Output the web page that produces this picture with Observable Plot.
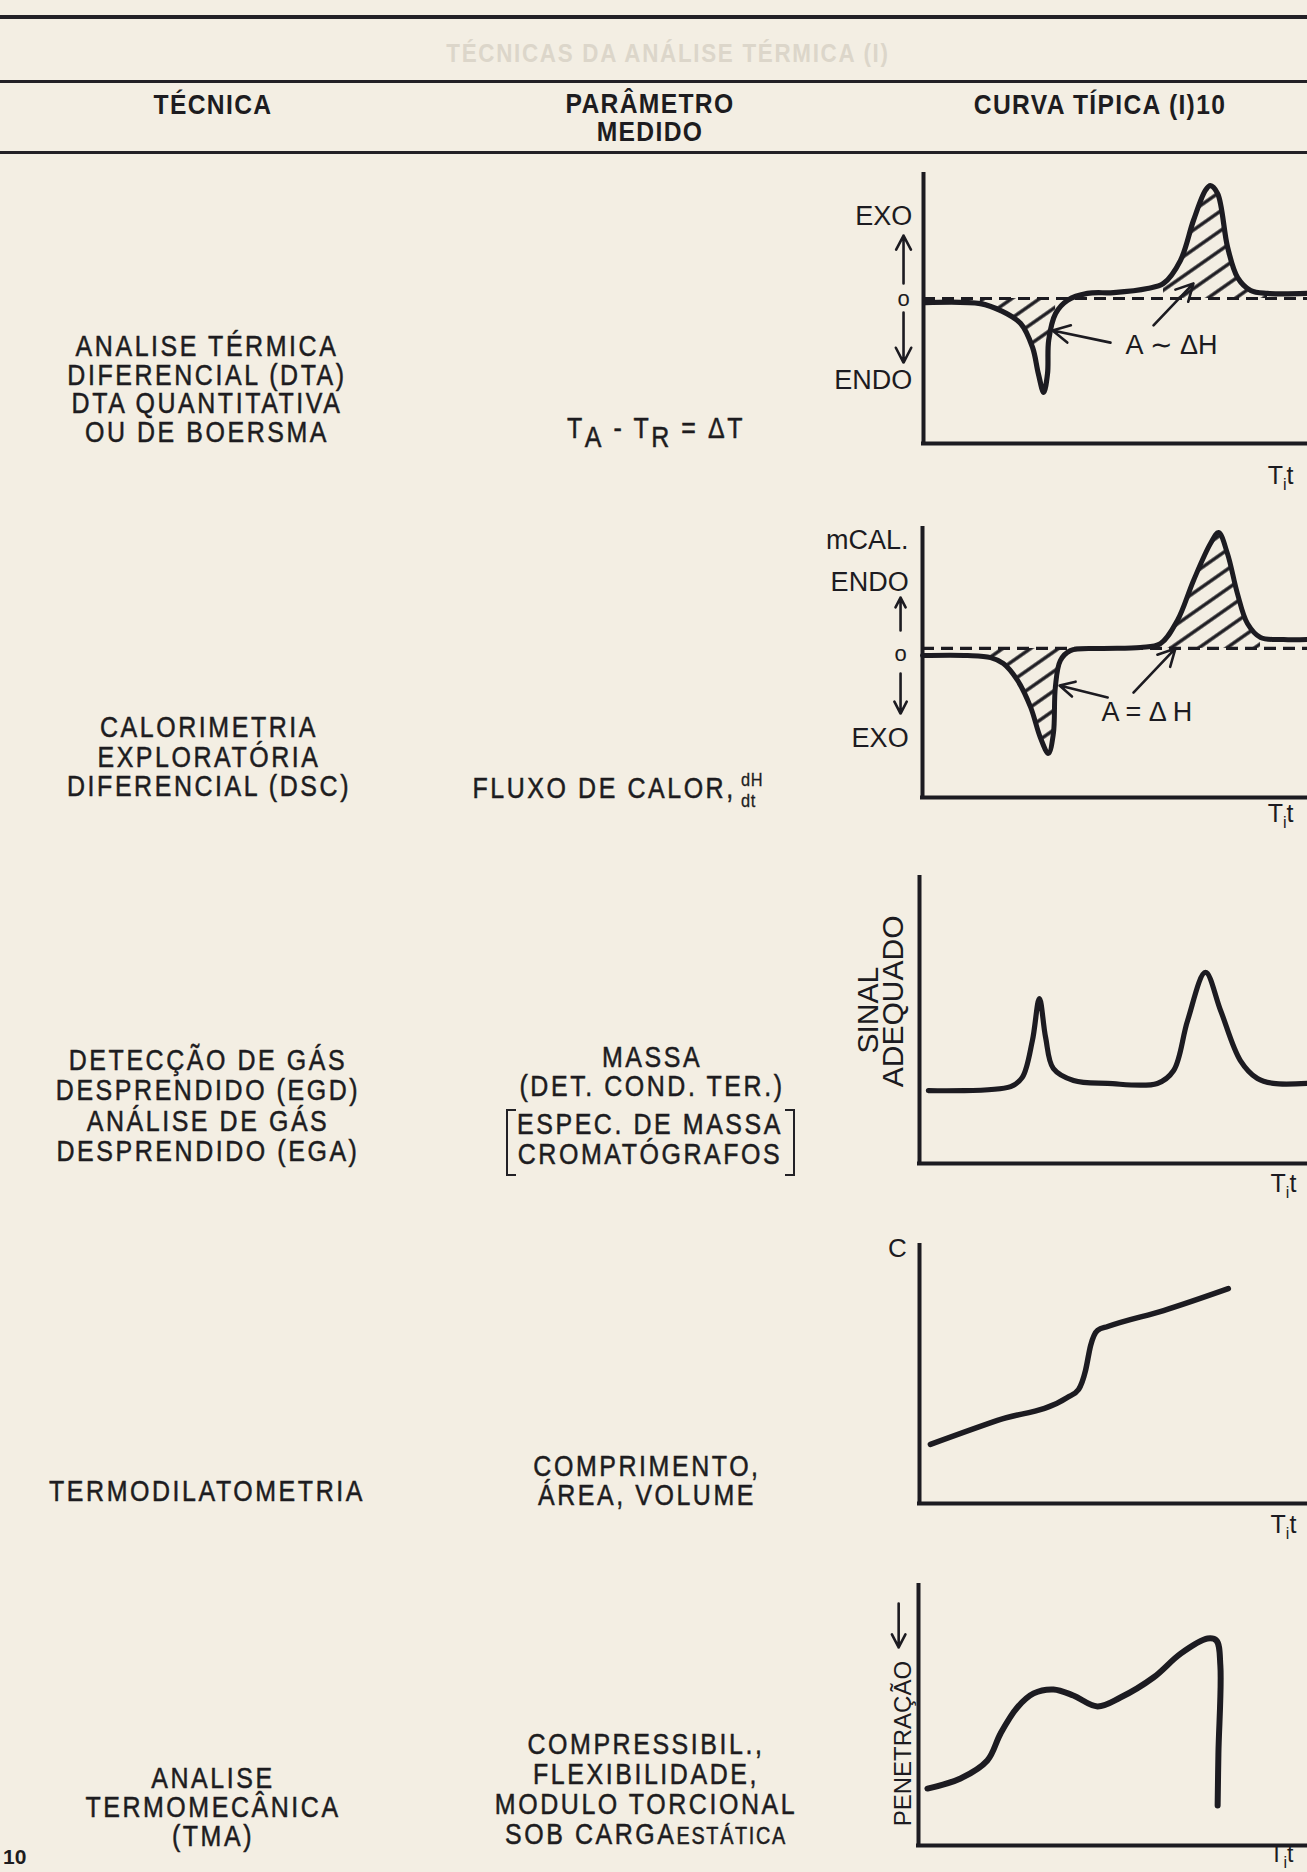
<!DOCTYPE html>
<html><head><meta charset="utf-8">
<script src="https://cdn.jsdelivr.net/npm/d3@7"></script>
<script src="https://cdn.jsdelivr.net/npm/@observablehq/plot@0.6"></script>
<style>
html,body{margin:0;padding:0;background:#f3eee3;}
#page{position:relative;width:1307px;height:1872px;overflow:hidden;background:#f3eee3;font-family:"Liberation Sans",Arial,sans-serif;color:#1d1c20;}
.rule{position:absolute;left:0;width:1307px;background:#222126;}
.blk{position:absolute;transform:translate(-50%,-50%) scaleX(0.86);white-space:nowrap;text-align:center;font-size:29px;line-height:29.5px;letter-spacing:3px;-webkit-text-stroke:0.5px #1d1c20;}
.hdr{font-weight:bold;letter-spacing:1.5px;font-size:28px;line-height:28px;transform:translate(-50%,-50%) scaleX(0.88);-webkit-text-stroke:0;}
.faint{font-weight:bold;color:#dcd6ca;font-size:26px;letter-spacing:2px;-webkit-text-stroke:0;}
.blk sub{font-size:100%;vertical-align:-0.33em;line-height:0;}
.frac{display:inline-block;vertical-align:middle;font-size:19px;line-height:21px;text-align:left;letter-spacing:1px;margin-left:6px;-webkit-text-stroke:0.3px #1d1c20;}
.frac span{display:block;}
.sm{font-size:23px;letter-spacing:2px;}
.brk{position:absolute;width:8px;height:63px;border:2.5px solid #222126;}
.chart{position:absolute;}
</style></head><body>
<div id="page"></div>
<script>
// ---------- table content ----------
const header = ["TÉCNICA", "PARÂMETRO<br>MEDIDO", "CURVA TÍPICA (I)10"];
const tableTitle = "TÉCNICAS DA ANÁLISE TÉRMICA (I)";
const tecnicas = [
  ["ANALISE TÉRMICA", "DIFERENCIAL (DTA)", "DTA QUANTITATIVA", "OU DE BOERSMA"],
  ["CALORIMETRIA", "EXPLORATÓRIA", "DIFERENCIAL (DSC)"],
  ["DETECÇÃO DE GÁS", "DESPRENDIDO (EGD)", "ANÁLISE DE GÁS", "DESPRENDIDO (EGA)"],
  ["TERMODILATOMETRIA"],
  ["ANALISE", "TERMOMECÂNICA", "(TMA)"]
];
const parametros = [
  ["T<sub>A</sub> - T<sub>R</sub> = ΔT"],
  ["FLUXO DE CALOR,<span class='frac'><span>dH</span><span>dt</span></span>"],
  ["MASSA", "(DET. COND. TER.)"],
  ["ESPEC. DE MASSA", "CROMATÓGRAFOS"],
  ["COMPRIMENTO,", "ÁREA, VOLUME"],
  ["COMPRESSIBIL.,", "FLEXIBILIDADE,", "MODULO TORCIONAL", "SOB CARGA<span class='sm'>ESTÁTICA</span>"]
];

// ---------- curve data (x = T;t, y = signal) ----------
const dtaT = [0.5,14.8,20.1,25.3,28.4,29.9,31.3,32.3,32.6,34.4,37.5,42.7,49.5,58.3,62.5,66.9,70.3,73.4,74.7,76.6,79.2,81.8,85.2,89.6,100];
const dtaDeltaT = [52.4,52.0,49.4,44.6,35.7,26.0,19.0,26.0,38.3,48.3,53.2,55.8,56.1,57.6,59.5,68.0,82.9,94.1,95.9,92.9,72.9,61.7,56.9,55.8,55.8];
const dtaBase = 53.9;

const dscT = [0,11.7,17.7,21.0,24.7,28.1,30.6,32.7,34.0,34.5,35.8,38.4,46.2,56.6,61.8,66.2,70.4,74.8,76.9,79.2,81.8,84.4,87.8,93.8,100];
const dscFlux = [52.8,52.8,52.0,49.8,43.5,33.5,22.3,16.4,23.8,40.9,50.9,54.6,55.4,55.8,57.2,65.8,80.7,94.4,98.5,90.7,75.8,64.7,59.5,58.7,58.7];
const dscBase = 55.4;

const egdT = [2.3,23.5,26.5,29.1,30.9,32.5,34.5,39.7,48.5,61.3,65.5,69.1,73.7,77.6,82.7,87.1,91.2,100];
const egdSinal = [25.5,26.9,30.1,43.0,57.7,44.1,33.2,29.0,28.0,28.0,32.5,50.0,66.8,53.5,36.0,29.7,28.0,28.0];

const dilT = [2.8,20.1,38.1,41.0,42.8,44.1,45.9,48.5,62.9,79.6];
const dilC = [22.9,32.2,41.1,44.2,51.6,61.2,67.1,68.6,74.8,83.3];

const tmaT = [2.3,10.8,17.7,21.1,25.4,29.6,34.7,39.8,46.0,51.9,60.4,67.4,74.3,76.6,77.6,77.1,76.9];
const tmaPen = [21.9,25.8,32.7,43.1,53.1,58.5,60.0,57.7,53.5,56.9,64.6,73.8,79.6,78.8,69.2,35.4,15.4];

// ---------- page layout ----------
const ink = "#1c1b21";
const page = document.getElementById("page");
function block(lines, cx, cy, cls, lh) {
  const d = document.createElement("div");
  d.className = "blk " + (cls || "");
  d.style.left = cx + "px"; d.style.top = cy + "px";
  if (lh) d.style.lineHeight = lh + "px";
  d.innerHTML = lines.join("<br>");
  page.appendChild(d);
}
[[15,3.5],[80,3],[151,3]].forEach(([y,h]) => {
  const r = document.createElement("div"); r.className = "rule";
  r.style.top = y + "px"; r.style.height = h + "px"; page.appendChild(r);
});
block([tableTitle], 668, 54, "faint");
block([header[0]], 213, 105, "hdr");
block([header[1]], 650, 118, "hdr");
block([header[2]], 1100, 105, "hdr");

const tecPos = [[207,389,28.7],[209,757,29.5],[208,1106,30.3],[207,1492,29.5],[213,1807,29]];
tecnicas.forEach((t,i) => block(t, tecPos[i][0], tecPos[i][1], "", tecPos[i][2]));
const parPos = [[656,428,29],[618,790,29],[652,1072,29],[650,1139,30],[647,1480,28.5],[646,1790,30]];
parametros.forEach((p,i) => block(p, parPos[i][0], parPos[i][1], "", parPos[i][2]));
[[506,1109,"left"],[785,1109,"right"]].forEach(([x,y,side]) => {
  const b = document.createElement("div"); b.className = "brk";
  b.style.left = x + "px"; b.style.top = y + "px";
  b.style["border" + (side === "left" ? "Right" : "Left")] = "none";
  page.appendChild(b);
});
const pn = document.createElement("div");
pn.textContent = "10";
Object.assign(pn.style, {position:"absolute", left:"3px", top:"1846px", fontWeight:"bold", fontSize:"21px", lineHeight:"22px"});
page.appendChild(pn);

// ---------- charts ----------
const ns = "http://www.w3.org/2000/svg";
function makeChart(cfg) {
  const data = cfg.x.map((x, i) => ({x, y: cfg.y[i]}));
  const pid = "hatch-" + cfg.id;
  const marks = [];
  (cfg.hatch || []).forEach(h => {
    const sub = data.filter(d => d.x >= h.from && d.x <= h.to);
    marks.push(Plot.areaY(sub, {
      x: "x", y1: () => cfg.base,
      y2: d => h.floor != null ? Math.max(d.y, h.floor) : d.y,
      fill: `url(#${pid})`, curve: cfg.curve
    }));
  });
  if (cfg.base != null)
    marks.push(Plot.ruleY([cfg.base], {x1: 0, x2: 100, stroke: ink, strokeWidth: 3.2, strokeDasharray: "12,7"}));
  marks.push(Plot.ruleX([0], {y1: 0, y2: 100, stroke: ink, strokeWidth: 4, strokeLinecap: "square"}));
  marks.push(Plot.ruleY([0], {x1: 0, x2: 100, stroke: ink, strokeWidth: 4, strokeLinecap: "square"}));
  marks.push(Plot.line(data, {x: "x", y: "y", curve: cfg.curve, stroke: ink, strokeWidth: cfg.sw, strokeLinecap: "round", strokeLinejoin: "round"}));
  if (cfg.arrows)
    marks.push(Plot.arrow(cfg.arrows, {x1: "x1", y1: "y1", x2: "x2", y2: "y2", stroke: ink, strokeWidth: 2.6, headLength: 11, headAngle: 55}));
  (cfg.labels || []).forEach(l => marks.push(Plot.text([l], {
    x: "x", y: "y", text: "t", textAnchor: l.anchor || "middle", rotate: l.rotate || 0,
    fontSize: l.size || 26, fill: ink, fontFamily: "Liberation Sans, Arial, sans-serif"
  })));
  const b = cfg.box;
  const svg = Plot.plot({
    width: b.w, height: b.h, marginLeft: b.ml, marginTop: b.mt, marginRight: 0, marginBottom: b.mb,
    x: {domain: [0, 100], axis: null},
    y: {domain: [0, 100], axis: null},
    style: {background: "transparent", overflow: "visible", maxWidth: "none", fontFamily: "Liberation Sans, Arial, sans-serif"},
    marks
  });
  // hatch pattern
  const defs = document.createElementNS(ns, "defs");
  const pat = document.createElementNS(ns, "pattern");
  pat.setAttribute("id", pid); pat.setAttribute("width", 16); pat.setAttribute("height", 16);
  pat.setAttribute("patternUnits", "userSpaceOnUse"); pat.setAttribute("patternTransform", "rotate(-35)");
  const ln = document.createElementNS(ns, "line");
  ln.setAttribute("x1", 0); ln.setAttribute("y1", 8); ln.setAttribute("x2", 16); ln.setAttribute("y2", 8);
  ln.setAttribute("stroke", ink); ln.setAttribute("stroke-width", 3.4);
  pat.appendChild(ln); defs.appendChild(pat); svg.insertBefore(defs, svg.firstChild);
  // subscript in "T i t"
  svg.querySelectorAll("text").forEach(t => {
    if (t.textContent === "T_it") {
      t.textContent = "";
      [["T",0,null],["i",6,16],["t",-6,null]].forEach(([s,dy,fs]) => {
        const ts = document.createElementNS(ns, "tspan");
        ts.textContent = s; if (dy) ts.setAttribute("dy", dy); if (fs) ts.setAttribute("font-size", fs);
        t.appendChild(ts);
      });
    }
  });
  const wrap = document.createElement("div");
  wrap.className = "chart";
  wrap.style.left = b.left + "px"; wrap.style.top = b.top + "px";
  wrap.appendChild(svg);
  page.appendChild(wrap);
}

makeChart({
  id: "dta", x: dtaT, y: dtaDeltaT, base: dtaBase, curve: "catmull-rom", sw: 5.2,
  hatch: [{from: 14, to: 36, floor: 36}, {from: 60, to: 92}],
  box: {left: 836, top: 158, w: 471, h: 334, ml: 87, mt: 16, mb: 49},
  arrows: [
    {x1: -5.2, y1: 59.5, x2: -5.2, y2: 77.3}, {x1: -5.2, y1: 48.7, x2: -5.2, y2: 30.1},
    {x1: 48.7, y1: 37.5, x2: 33.6, y2: 42.0}, {x1: 59.9, y1: 43.9, x2: 70.3, y2: 59.5}
  ],
  labels: [
    {x: -2.9, y: 84.4, t: "EXO", anchor: "end", size: 27},
    {x: -2.9, y: 23.4, t: "ENDO", anchor: "end", size: 27},
    {x: -5.2, y: 53.6, t: "o", size: 22},
    {x: 52.6, y: 36.4, t: "A ∼ ΔH", anchor: "start", size: 27},
    {x: 93, y: -11.9, t: "T_it", size: 25}
  ]
});
makeChart({
  id: "dsc", x: dscT, y: dscFlux, base: dscBase, curve: "catmull-rom", sw: 5,
  hatch: [{from: 17, to: 36.5}, {from: 61, to: 90}],
  box: {left: 796, top: 510, w: 511, h: 325, ml: 126, mt: 18, mb: 38},
  arrows: [
    {x1: -5.7, y1: 62.1, x2: -5.7, y2: 74.3}, {x1: -5.7, y1: 46.1, x2: -5.7, y2: 31.2},
    {x1: 48.1, y1: 37.2, x2: 35.6, y2: 41.6}, {x1: 54.8, y1: 39.0, x2: 65.7, y2: 55.4}
  ],
  labels: [
    {x: -3.6, y: 95.5, t: "mCAL.", anchor: "end", size: 27},
    {x: -3.6, y: 79.9, t: "ENDO", anchor: "end", size: 27},
    {x: -3.6, y: 21.9, t: "EXO", anchor: "end", size: 27},
    {x: -5.7, y: 53.2, t: "o", size: 22},
    {x: 46.5, y: 31.6, t: "A = Δ H", anchor: "start", size: 27},
    {x: 93, y: -6.3, t: "T_it", size: 25}
  ]
});
makeChart({
  id: "egd", x: egdT, y: egdSinal, curve: "catmull-rom", sw: 5.2,
  box: {left: 846, top: 860, w: 461, h: 340, ml: 73, mt: 17, mb: 37},
  labels: [
    {x: -13.1, y: 53.6, t: "SINAL", rotate: -90, size: 30},
    {x: -6.7, y: 56.7, t: "ADEQUADO", rotate: -90, size: 30},
    {x: 93.8, y: -7.3, t: "T_it", size: 25}
  ]
});
makeChart({
  id: "dil", x: dilT, y: dilC, curve: "monotone-x", sw: 5.5,
  box: {left: 870, top: 1228, w: 437, h: 314, ml: 49, mt: 17, mb: 39},
  labels: [
    {x: -5.7, y: 98.8, t: "C", size: 26},
    {x: 93.8, y: -8.5, t: "T_it", size: 25}
  ]
});
makeChart({
  id: "tma", x: tmaT, y: tmaPen, curve: "catmull-rom", sw: 6,
  box: {left: 870, top: 1575, w: 437, h: 297, ml: 48, mt: 10, mb: 27},
  arrows: [{x1: -5.1, y1: 93.1, x2: -5.1, y2: 76.2}],
  labels: [
    {x: -3.9, y: 39.2, t: "PENETRAÇÃO", rotate: -90, size: 24},
    {x: 93.3, y: -3.6, t: "T_it", size: 23}
  ]
});
</script>
</body></html>
